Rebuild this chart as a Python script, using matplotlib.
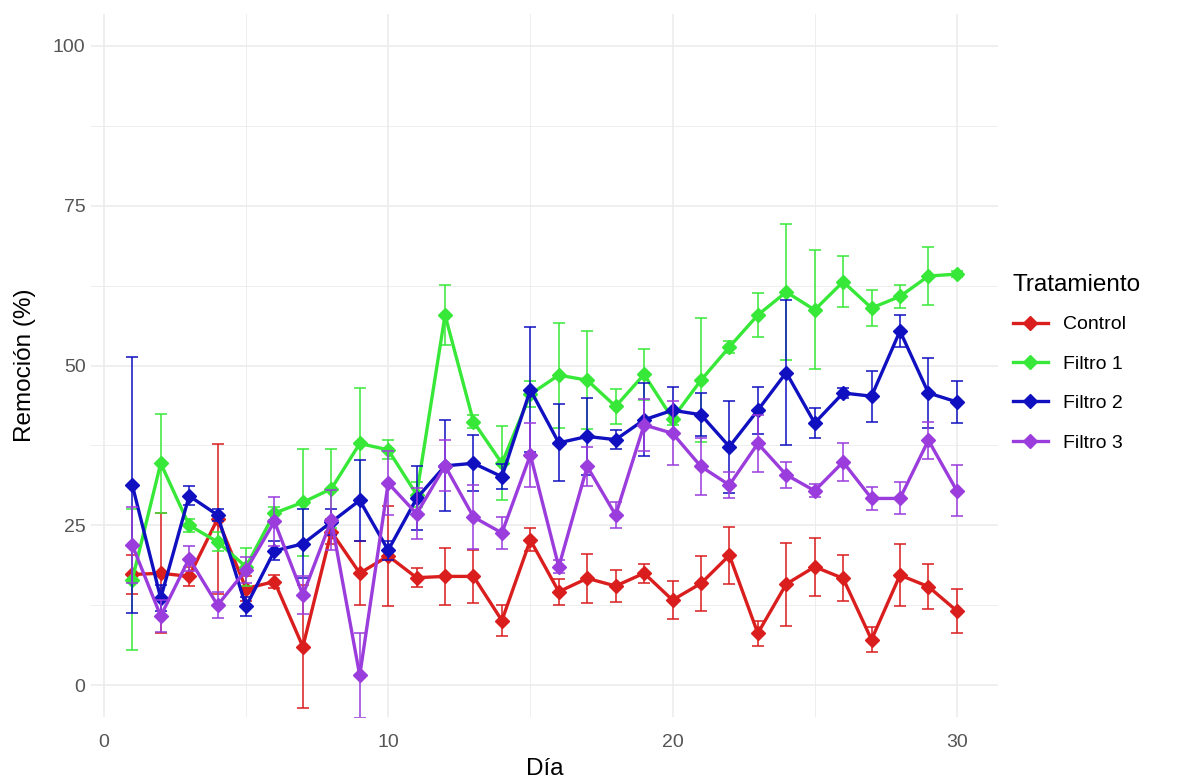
import matplotlib
matplotlib.use("Agg")
import matplotlib.pyplot as plt
from matplotlib.lines import Line2D
import numpy as np

plt.rcParams['font.family'] = ['Liberation Sans', 'DejaVu Sans']

# datos: remoción media (%) y desviación por día
dias = list(range(1, 31))

control = [17.3, 17.5, 17.0, 26.0, 15.1, 16.2, 6.0, 24.0, 17.5, 20.2,
           16.8, 17.0, 17.0, 10.1, 22.7, 14.6, 16.7, 15.5, 17.5, 13.3,
           15.9, 20.3, 8.1, 15.8, 18.5, 16.7, 7.1, 17.2, 15.4, 11.6]
control_sd = [3.0, 9.4, 1.5, 11.7, 2.0, 1.0, 9.6, 2.0, 5.0, 7.8,
              1.5, 4.4, 4.2, 2.5, 1.8, 2.0, 3.8, 2.5, 1.5, 3.0,
              4.3, 4.5, 2.0, 6.5, 4.5, 3.6, 2.0, 4.9, 3.5, 3.4]

filtro1 = [16.5, 34.7, 25.0, 22.4, 18.5, 26.9, 28.6, 30.7, 37.8, 36.8,
           29.8, 57.9, 41.2, 34.7, 45.5, 48.5, 47.7, 43.6, 48.6, 41.7,
           47.7, 52.9, 57.9, 61.5, 58.7, 63.1, 59.0, 60.8, 64.0, 64.3]
filtro1_sd = [11.0, 7.7, 1.0, 1.5, 3.0, 1.0, 8.4, 6.2, 8.7, 1.5,
              2.0, 4.7, 1.0, 5.8, 2.0, 8.2, 7.7, 2.8, 4.0, 1.0,
              9.7, 1.0, 3.4, 10.6, 9.3, 4.0, 2.8, 1.8, 4.6, 0.5]

filtro2 = [31.3, 13.6, 29.6, 26.6, 12.3, 21.0, 22.1, 25.5, 28.9, 21.1,
           29.2, 34.3, 34.7, 32.6, 46.2, 37.9, 38.9, 38.4, 41.5, 43.0,
           42.3, 37.3, 43.0, 48.9, 41.0, 45.7, 45.2, 55.4, 45.7, 44.3]
filtro2_sd = [20.0, 2.0, 1.5, 1.0, 1.5, 1.5, 5.4, 2.0, 6.3, 1.5,
              5.0, 7.1, 4.4, 2.0, 9.8, 6.0, 6.0, 1.5, 5.7, 3.7,
              3.4, 7.2, 3.7, 11.4, 2.3, 0.8, 4.0, 2.5, 5.4, 3.3]

filtro3 = [21.9, 10.8, 19.8, 12.5, 18.0, 25.6, 14.1, 25.8, 1.5, 31.6,
           26.8, 34.3, 26.3, 23.8, 36.0, 18.5, 34.2, 26.6, 40.7, 39.4,
           34.2, 31.3, 37.8, 32.9, 30.4, 34.9, 29.2, 29.2, 38.3, 30.4]
filtro3_sd = [6.0, 2.5, 2.0, 2.0, 2.0, 3.8, 3.0, 4.7, 6.6, 5.0,
              4.0, 4.0, 5.0, 2.5, 5.0, 1.0, 3.0, 2.0, 4.0, 5.0,
              4.5, 2.0, 4.5, 2.0, 1.0, 2.9, 1.8, 2.5, 2.9, 4.0]

tratamientos = ['Control', 'Filtro 1', 'Filtro 2', 'Filtro 3']
colores = ['#DA1E1E', '#38E838', '#1010C0', '#9B3CDC']
series = [(control, control_sd), (filtro1, filtro1_sd),
          (filtro2, filtro2_sd), (filtro3, filtro3_sd)]

fig = plt.figure(figsize=(11.81, 7.82), dpi=100)
ax = fig.add_axes([0.0771, 0.0831, 0.768, 0.899])

for i, (nombre, col, (y, sd)) in enumerate(zip(tratamientos, colores, series)):
    ax.errorbar(dias, y, yerr=sd, fmt='none', ecolor=col, elinewidth=1.3,
                capsize=4, capthick=1.3, alpha=0.85, zorder=3 + i)
    ax.plot(dias, y, '-', color=col, lw=2.4, zorder=3 + i)
    ax.plot(dias, y, 'D', color=col, ms=7.5, zorder=3 + i)

ax.set_xlim(-0.45, 31.45)
ax.set_ylim(-5, 105)
ax.set_xticks([0, 10, 20, 30])
ax.set_xticks([5, 15, 25], minor=True)
ax.set_yticks([0, 25, 50, 75, 100])
ax.set_yticks([12.5, 37.5, 62.5, 87.5], minor=True)
ax.grid(which='major', color='#EBEBEB', lw=1.1, zorder=0)
ax.grid(which='minor', color='#EBEBEB', lw=0.6, zorder=0)
ax.tick_params(which='both', length=0, labelsize=14, labelcolor='#555555')
ax.tick_params(axis='x', pad=12)
ax.tick_params(axis='y', pad=4)
for s in ax.spines.values():
    s.set_visible(False)

ax.set_xlabel('Día', fontsize=17.5, labelpad=5)
ax.set_ylabel('Remoción (%)', fontsize=17.5, labelpad=12)

handles = [Line2D([0], [0], color=c, lw=2.4, marker='D', ms=7.5) for c in colores]
leg = fig.legend(handles, tratamientos, title='Tratamiento', loc='upper left',
                 bbox_to_anchor=(0.851, 0.659), frameon=False, fontsize=14,
                 title_fontsize=17.5, handlelength=1.8, labelspacing=1.12,
                 handletextpad=0.8, borderaxespad=0)
leg._legend_box.align = 'left'
leg._legend_box.sep = 14

fig.savefig('out.png', dpi=100)
